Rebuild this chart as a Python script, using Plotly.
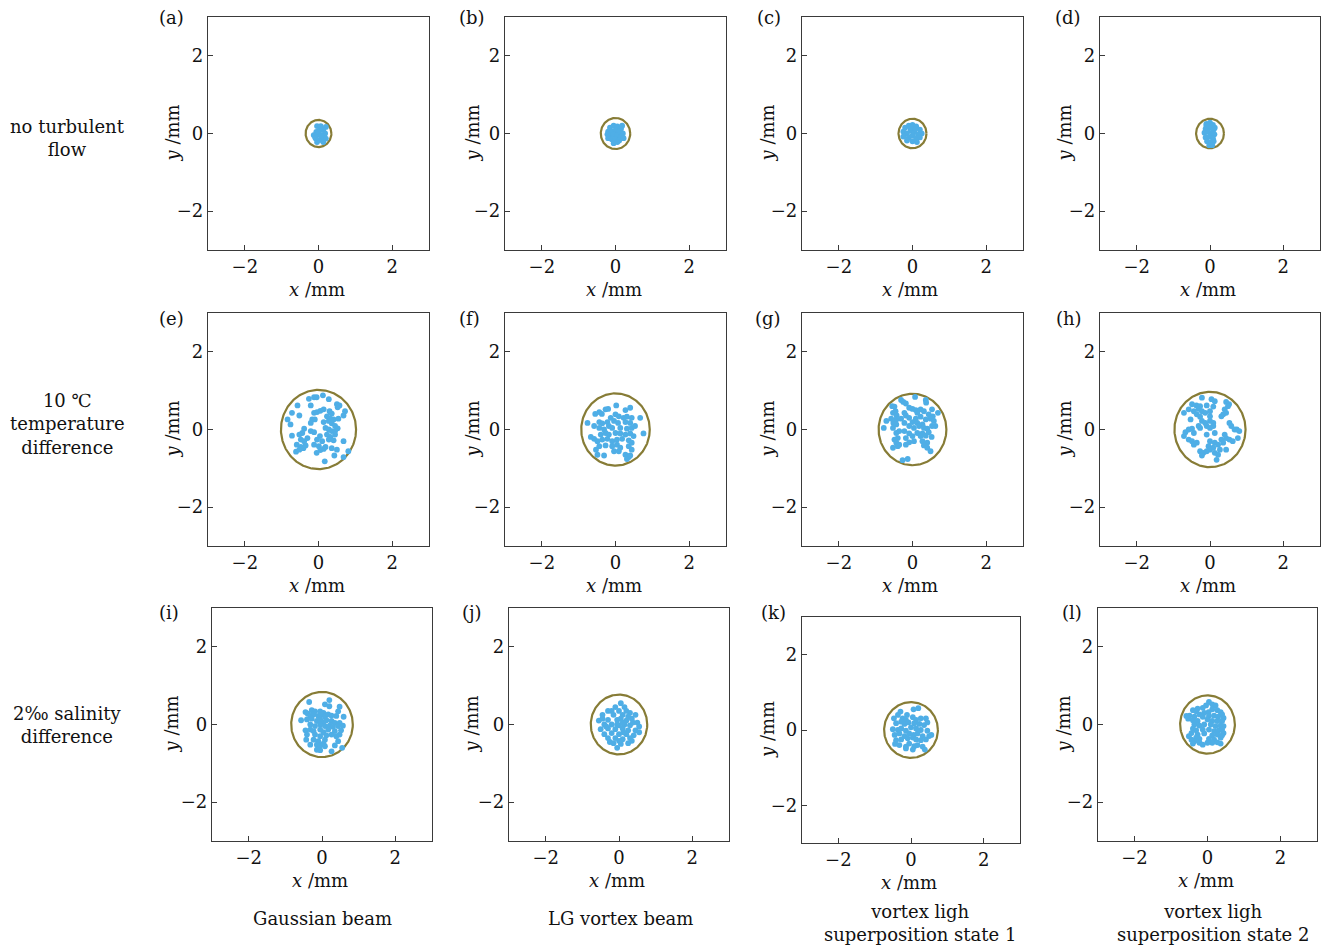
import numpy as np
import plotly.graph_objects as go

W, H = 1332, 947

panel_labels = ["(a)", "(b)", "(c)", "(d)", "(e)", "(f)", "(g)", "(h)", "(i)", "(j)", "(k)", "(l)"]
row_labels = ["no turbulent<br>flow", "10 ℃<br>temperature<br>difference", "2‰ salinity<br>difference"]
col_labels = ["Gaussian beam", "LG vortex beam", "vortex ligh<br>superposition state 1", "vortex ligh<br>superposition state 2"]
x_title = "<i>x</i> /mm"
y_title = "<i>y</i> /mm"
tick_vals = [-2, 0, 2]
axis_range = [-3, 3]

# radius of the reference circle in each panel (mm)
radii = [0.35, 0.40, 0.38, 0.38, 1.02, 0.93, 0.92, 0.97, 0.84, 0.77, 0.74, 0.75]

# (a)
a_x = [-0.04, 0.06, 0.20, 0.13, -0.04, 0.04, 0.13, -0.09, 0.00, 0.09, 0.20, -0.06, 0.18, -0.13, 0.04, -0.04, 0.13, 0.00, 0.08, -0.08]
a_y = [0.19, 0.19, 0.17, 0.09, 0.00, -0.04, -0.09, -0.09, -0.17, -0.17, -0.13, 0.04, 0.00, -0.04, 0.09, -0.22, -0.22, 0.05, -0.05, -0.12]
# (b)
b_x = [-0.15, -0.05, 0.05, 0.15, -0.20, -0.10, 0.00, 0.10, 0.20, -0.15, -0.05, 0.05, 0.15, -0.20, -0.10, 0.00, 0.10, -0.05, 0.05, 0.18, -0.22, 0.22]
b_y = [0.15, 0.20, 0.18, 0.12, 0.05, 0.05, 0.08, 0.05, 0.00, -0.05, -0.02, -0.05, -0.08, -0.12, -0.15, -0.15, -0.18, -0.25, -0.22, 0.20, -0.02, -0.12]
# (c)
c_x = [-0.25, -0.20, -0.10, 0.00, 0.10, 0.20, 0.25, -0.15, -0.05, 0.05, 0.15, -0.25, -0.10, 0.00, 0.10, 0.20, -0.15, 0.00, 0.12, -0.05, 0.08]
c_y = [0.05, 0.15, 0.20, 0.22, 0.18, 0.10, 0.00, 0.00, 0.08, 0.05, -0.02, -0.08, -0.10, -0.05, -0.12, -0.10, -0.18, -0.20, -0.22, 0.15, 0.12]
# (d)
d_x = [-0.10, 0.00, 0.08, -0.12, -0.02, 0.10, -0.15, -0.05, 0.05, 0.12, -0.12, -0.02, 0.08, -0.08, 0.03, 0.10, -0.02, 0.06, -0.10, 0.13]
d_y = [0.25, 0.28, 0.22, 0.12, 0.15, 0.10, 0.02, 0.05, 0.00, -0.02, -0.10, -0.08, -0.12, -0.20, -0.22, -0.20, -0.30, -0.30, 0.20, 0.15]
# (e)
e_x = [0.12, -0.12, -0.05, -0.26, 0.28, -0.57, -0.21, 0.50, 0.57, 0.52, -0.72, -0.52, -0.12, -0.04, 0.05, 0.14, 0.30, 0.36, 0.72, 0.68,
       -0.84, -0.17, -0.10, -0.21, 0.23, 0.32, 0.41, 0.54, -0.76, 0.14, 0.28, 0.36, 0.45, 0.52, -0.39, -0.21, -0.12, 0.19, 0.28, 0.36,
       0.45, -0.72, -0.52, -0.44, 0.04, 0.23, 0.32, 0.45, -0.48, -0.39, -0.30, -0.04, 0.10, 0.28, 0.41, 0.68, -0.59, -0.48, -0.41, -0.35,
       -0.12, 0.01, 0.19, 0.36, 0.50, -0.61, -0.52, 0.05, 0.14, -0.05, 0.43, 0.68, 0.81, 0.17]
e_y = [0.88, 0.83, 0.83, 0.79, 0.78, 0.62, 0.62, 0.65, 0.62, 0.57, 0.43, 0.36, 0.43, 0.45, 0.48, 0.52, 0.47, 0.41, 0.47, 0.36,
       0.26, 0.26, 0.26, 0.17, 0.34, 0.28, 0.26, 0.28, 0.13, 0.19, 0.22, 0.16, 0.09, 0.03, 0.02, -0.04, -0.07, 0.04, 0.00, -0.04,
       -0.04, -0.16, -0.13, -0.09, -0.17, -0.13, -0.19, -0.13, -0.26, -0.30, -0.22, -0.26, -0.30, -0.26, -0.28, -0.30, -0.39, -0.45, -0.48, -0.41,
       -0.39, -0.43, -0.45, -0.48, -0.52, -0.57, -0.52, -0.53, -0.50, -0.60, -0.67, -0.71, -0.56, -0.82]
# (f)
f_x = [0.02, 0.40, -0.27, -0.20, -0.44, -0.37, -0.55, 0.27, 0.00, 0.09, -0.13, 0.22, 0.31, 0.44, 0.67, -0.76, -0.44, -0.36, -0.22, -0.04,
       0.07, 0.27, 0.40, -0.58, -0.44, -0.31, -0.18, -0.09, 0.13, 0.31, 0.44, 0.53, 0.76, -0.67, -0.58, -0.40, -0.27, -0.18, 0.00, 0.13,
       0.27, 0.40, 0.49, -0.49, -0.36, -0.22, -0.09, 0.04, 0.18, 0.36, 0.44, -0.53, -0.44, -0.27, -0.09, 0.04, 0.13, 0.36, 0.44, -0.49,
       -0.31, -0.04, 0.09, 0.27, 0.36, 0.31, 0.40]
f_y = [0.62, 0.56, 0.52, 0.53, 0.45, 0.40, 0.40, 0.50, 0.39, 0.34, 0.30, 0.30, 0.33, 0.30, 0.30, 0.17, 0.19, 0.16, 0.19, 0.22,
       0.17, 0.19, 0.17, 0.09, 0.04, 0.00, 0.09, 0.04, 0.04, 0.02, 0.04, 0.09, -0.10, -0.19, -0.24, -0.13, -0.09, -0.13, -0.09, -0.10,
       -0.13, -0.10, -0.17, -0.30, -0.26, -0.24, -0.30, -0.26, -0.24, -0.28, -0.34, -0.52, -0.43, -0.41, -0.43, -0.39, -0.47, -0.43, -0.52, -0.65,
       -0.67, -0.56, -0.56, -0.65, -0.71, -0.76, -0.67]
# (g)
g_x = [0.07, 0.36, 0.37, -0.31, -0.25, -0.18, -0.55, -0.49, -0.09, 0.00, 0.09, 0.22, 0.31, 0.53, 0.69, -0.53, -0.46, -0.43, -0.22, -0.18,
       0.13, 0.44, 0.55, -0.58, -0.44, -0.31, -0.09, 0.09, 0.22, 0.36, 0.49, 0.58, -0.71, -0.52, -0.44, -0.22, 0.00, 0.13, 0.27, 0.53,
       0.62, -0.78, -0.53, -0.09, 0.04, 0.18, 0.31, 0.40, -0.44, -0.36, -0.22, -0.09, 0.13, 0.27, 0.44, -0.49, -0.40, -0.18, 0.00, 0.22,
       0.36, 0.52, -0.44, -0.36, -0.09, 0.04, 0.27, 0.40, -0.53, -0.40, -0.18, 0.31, 0.40, 0.49, -0.13, -0.27]
g_y = [0.84, 0.76, 0.69, 0.76, 0.71, 0.67, 0.60, 0.59, 0.56, 0.53, 0.50, 0.52, 0.47, 0.52, 0.43, 0.43, 0.47, 0.36, 0.43, 0.36,
       0.43, 0.39, 0.34, 0.28, 0.26, 0.28, 0.30, 0.28, 0.33, 0.26, 0.28, 0.22, 0.22, 0.17, 0.13, 0.17, 0.19, 0.17, 0.13, 0.09,
       0.09, 0.04, 0.04, 0.09, 0.04, 0.09, 0.04, 0.02, -0.09, -0.04, -0.04, -0.10, -0.09, -0.10, -0.07, -0.26, -0.22, -0.22, -0.17, -0.17,
       -0.16, -0.19, -0.34, -0.39, -0.33, -0.30, -0.30, -0.34, -0.47, -0.43, -0.39, -0.41, -0.47, -0.56, -0.76, -0.79]
# (h)
h_x = [-0.22, 0.04, 0.13, 0.44, 0.52, -0.49, -0.37, -0.27, -0.09, 0.09, -0.58, -0.44, -0.31, -0.22, -0.13, 0.00, 0.40, 0.49, 0.44, 0.36,
       -0.71, -0.36, -0.27, 0.00, 0.31, -0.53, -0.22, -0.13, 0.00, 0.09, 0.53, 0.58, 0.67, 0.80, 0.73, -0.31, -0.27, -0.09, 0.00, 0.09,
       -0.58, -0.49, -0.67, -0.44, -0.71, -0.09, 0.13, 0.40, 0.44, 0.53, 0.62, 0.76, 0.31, -0.58, -0.49, -0.44, -0.36, 0.00, 0.13, 0.22,
       0.36, -0.04, 0.00, 0.09, 0.27, 0.44, -0.27, -0.18, -0.09, 0.13, 0.22, -0.22, 0.18]
h_y = [0.82, 0.78, 0.73, 0.71, 0.65, 0.65, 0.62, 0.60, 0.62, 0.59, 0.52, 0.47, 0.53, 0.47, 0.43, 0.47, 0.52, 0.60, 0.43, 0.39,
       0.43, 0.39, 0.33, 0.34, 0.34, 0.26, 0.22, 0.17, 0.22, 0.17, 0.17, 0.09, 0.00, -0.04, 0.00, 0.09, 0.04, 0.09, 0.04, 0.09,
       0.00, 0.02, -0.07, -0.09, -0.17, -0.13, -0.09, -0.13, -0.22, -0.26, -0.30, -0.22, -0.26, -0.26, -0.30, -0.39, -0.34, -0.30, -0.34, -0.39,
       -0.34, -0.43, -0.52, -0.47, -0.52, -0.52, -0.56, -0.60, -0.56, -0.60, -0.65, -0.67, -0.78]
# (i)
i_x = [-0.35, 0.20, 0.08, 0.20, 0.48, 0.44, -0.45, -0.39, -0.28, -0.19, -0.05, 0.04, -0.32, -0.23, -0.10, -0.01, 0.08, 0.17, 0.26, 0.39,
       0.59, -0.57, -0.41, -0.28, -0.14, -0.05, 0.04, 0.12, 0.26, 0.35, 0.48, -0.32, -0.19, -0.05, 0.08, 0.21, 0.30, 0.44, 0.57, -0.45,
       -0.32, -0.23, -0.05, 0.04, 0.17, 0.35, 0.52, -0.41, -0.19, -0.05, 0.12, 0.26, 0.39, 0.48, -0.43, -0.23, -0.10, 0.08, 0.44, -0.32,
       -0.14, -0.05, 0.04, 0.35, 0.55, -0.14, -0.05, 0.26, 0.08]
i_y = [0.58, 0.63, 0.52, 0.47, 0.46, 0.34, 0.32, 0.28, 0.37, 0.34, 0.34, 0.30, 0.22, 0.26, 0.22, 0.26, 0.20, 0.26, 0.23, 0.22,
       0.20, 0.11, 0.13, 0.15, 0.09, 0.13, 0.06, 0.11, 0.09, 0.04, 0.04, 0.00, -0.04, 0.00, -0.04, -0.03, -0.06, -0.04, -0.03, -0.15,
       -0.13, -0.17, -0.13, -0.20, -0.13, -0.17, -0.15, -0.26, -0.26, -0.30, -0.28, -0.26, -0.30, -0.26, -0.39, -0.39, -0.43, -0.39, -0.43, -0.52,
       -0.52, -0.54, -0.49, -0.54, -0.60, -0.65, -0.66, -0.69, -0.56]
# (j)
j_x = [0.05, -0.10, 0.15, -0.30, 0.00, 0.30, -0.45, -0.15, 0.10, 0.35, -0.55, -0.30, -0.05, 0.20, 0.50, -0.40, -0.20, 0.00, 0.15, 0.30,
       0.55, -0.50, -0.30, -0.10, 0.10, 0.25, 0.45, -0.40, -0.20, 0.00, 0.20, 0.40, -0.30, -0.10, 0.10, 0.30, -0.15, 0.05, 0.25, -0.05,
       0.10, 0.05, -0.20, 0.20, 0.38, -0.35, 0.12, -0.05, 0.25, 0.45, -0.25, 0.35, 0.00, -0.45, 0.55]
j_y = [0.55, 0.45, 0.45, 0.35, 0.35, 0.30, 0.25, 0.25, 0.25, 0.15, 0.10, 0.12, 0.12, 0.10, 0.05, 0.00, 0.00, -0.02, 0.00, -0.02,
       -0.05, -0.12, -0.10, -0.12, -0.10, -0.15, -0.15, -0.25, -0.22, -0.25, -0.25, -0.28, -0.35, -0.35, -0.38, -0.35, -0.48, -0.50, -0.48, -0.60,
       0.05, 0.15, 0.35, 0.35, 0.05, -0.05, -0.20, 0.00, 0.20, 0.25, -0.45, -0.42, -0.42, 0.15, -0.20]
# (k)
k_x = [0.07, 0.20, -0.29, -0.11, -0.36, -0.47, -0.23, -0.14, 0.05, 0.14, 0.27, 0.41, -0.41, -0.27, -0.18, -0.07, 0.09, 0.23, 0.36, 0.45,
       -0.50, -0.36, -0.27, -0.14, 0.00, 0.14, 0.27, 0.45, -0.45, -0.32, -0.18, -0.05, 0.07, 0.18, 0.32, 0.50, 0.56, -0.41, -0.27, -0.09,
       0.05, 0.14, 0.27, 0.41, -0.44, -0.32, -0.14, -0.05, 0.09, 0.18, 0.32, -0.14, 0.05, 0.38]
k_y = [0.55, 0.58, 0.49, 0.40, 0.40, 0.31, 0.31, 0.27, 0.34, 0.27, 0.31, 0.31, 0.18, 0.22, 0.16, 0.20, 0.18, 0.16, 0.13, 0.20,
       0.02, 0.00, 0.04, -0.02, 0.07, 0.04, 0.00, -0.02, -0.13, -0.09, -0.16, -0.09, -0.13, -0.09, -0.16, -0.16, -0.13, -0.27, -0.25, -0.22,
       -0.20, -0.25, -0.27, -0.25, -0.37, -0.40, -0.44, -0.36, -0.43, -0.40, -0.44, -0.49, -0.52, -0.52]
# (l)
l_x = [0.04, 0.13, 0.22, -0.04, -0.13, -0.27, -0.40, -0.31, 0.13, 0.27, 0.36, 0.40, 0.03, -0.09, -0.58, -0.49, -0.36, -0.22, -0.13, 0.04,
       0.18, 0.29, 0.44, -0.53, -0.40, -0.27, 0.00, 0.13, 0.27, 0.40, -0.36, -0.22, -0.09, 0.09, 0.22, 0.36, 0.44, -0.40, -0.31, -0.13,
       0.04, 0.18, 0.31, 0.40, -0.44, -0.27, -0.09, 0.13, 0.27, 0.44, -0.51, -0.31, -0.22, 0.04, 0.18, 0.36, 0.40, -0.36, -0.22, 0.13,
       0.27, 0.36, -0.44, -0.40, -0.13, 0.00]
l_y = [0.58, 0.52, 0.49, 0.49, 0.43, 0.41, 0.37, 0.34, 0.39, 0.37, 0.32, 0.26, 0.32, 0.30, 0.22, 0.23, 0.20, 0.26, 0.20, 0.22,
       0.23, 0.20, 0.17, 0.15, 0.11, 0.09, 0.13, 0.09, 0.09, 0.09, 0.00, -0.03, 0.00, 0.00, -0.04, -0.03, -0.04, -0.11, -0.15, -0.13,
       -0.13, -0.17, -0.15, -0.13, -0.22, -0.26, -0.23, -0.28, -0.26, -0.22, -0.30, -0.34, -0.37, -0.37, -0.39, -0.34, -0.28, -0.43, -0.47, -0.47,
       -0.46, -0.49, -0.39, -0.49, -0.52, -0.47]

xs = [a_x, b_x, c_x, d_x, e_x, f_x, g_x, h_x, i_x, j_x, k_x, l_x]
ys = [a_y, b_y, c_y, d_y, e_y, f_y, g_y, h_y, i_y, j_y, k_y, l_y]

# panel boxes in pixels: left, right, top, bottom
boxes = [
    (208, 429, 17, 250), (505, 726, 17, 250), (802, 1023, 17, 250), (1100, 1320, 17, 250),
    (208, 429, 313, 546), (505, 726, 313, 546), (802, 1023, 313, 546), (1100, 1320, 313, 546),
    (212, 432, 608, 841), (509, 729, 608, 841), (802, 1020, 617, 843), (1098, 1317, 608, 841),
]
label_pos = [(157, 18), (457, 18), (755, 18), (1053, 18),
             (157, 318), (457, 318), (753, 318), (1054, 318),
             (157, 612), (460, 612), (759, 612), (1060, 612)]
ytitle_x = [172, 472, 767, 1064, 172, 472, 767, 1064, 171, 471, 767, 1063]

FONT = "DejaVu Serif"
TXT = "#111111"
AX = "#3a3a3a"
DOT = "#4FAEE6"
RING = "#877C36"
FS = 18

fig = go.Figure()
theta = np.linspace(0, 2 * np.pi, 241)
layout = {}
annotations = []
for k in range(12):
    n = "" if k == 0 else str(k + 1)
    xa, ya = "x" + n, "y" + n
    L, R, T, B = boxes[k]
    fig.add_trace(go.Scatter(x=radii[k] * np.cos(theta), y=radii[k] * np.sin(theta), mode="lines",
                             line=dict(color=RING, width=2.2), xaxis=xa, yaxis=ya, showlegend=False,
                             hoverinfo="skip"))
    fig.add_trace(go.Scatter(x=xs[k], y=ys[k], mode="markers",
                             marker=dict(color=DOT, size=5.8, line=dict(width=0)),
                             xaxis=xa, yaxis=ya, showlegend=False))
    common = dict(range=axis_range, tickvals=tick_vals, ticks="inside", ticklen=5, tickwidth=1.2,
                  tickcolor=AX, showline=True, linecolor=AX, linewidth=1.4, mirror=True,
                  showgrid=False, zeroline=False, tickfont=dict(family=FONT, size=FS, color=TXT),
                  fixedrange=True)
    layout["xaxis" + n] = dict(common, domain=[L / W, R / W], anchor=ya)
    layout["yaxis" + n] = dict(common, domain=[1 - B / H, 1 - T / H], anchor=xa)
    # x-axis title
    annotations.append(dict(text=x_title, x=((L + R) / 2 - 2) / W, y=1 - (B + 39) / H, xref="paper", yref="paper",
                            xanchor="center", yanchor="middle", showarrow=False,
                            font=dict(family=FONT, size=FS, color=TXT)))
    # y-axis title
    annotations.append(dict(text=y_title, x=ytitle_x[k] / W, y=1 - ((T + B) / 2) / H, xref="paper", yref="paper",
                            xanchor="center", yanchor="middle", showarrow=False, textangle=-90,
                            font=dict(family=FONT, size=FS, color=TXT)))
    px, py = label_pos[k]
    annotations.append(dict(text=panel_labels[k], x=px / W, y=1 - py / H, xref="paper", yref="paper",
                            xanchor="left", yanchor="middle", showarrow=False,
                            font=dict(family=FONT, size=FS, color=TXT)))

row_centers = [(67, 138), (67, 424), (67, 725)]
for txt, (px, py) in zip(row_labels, row_centers):
    annotations.append(dict(text=txt, x=px / W, y=1 - py / H, xref="paper", yref="paper",
                            xanchor="center", yanchor="middle", showarrow=False, align="center",
                            font=dict(family=FONT, size=FS, color=TXT)))
col_centers = [(322, 918), (620, 918), (920, 923), (1213, 923)]
for txt, (px, py) in zip(col_labels, col_centers):
    annotations.append(dict(text=txt, x=px / W, y=1 - py / H, xref="paper", yref="paper",
                            xanchor="center", yanchor="middle", showarrow=False, align="center",
                            font=dict(family=FONT, size=FS, color=TXT)))

fig.update_layout(width=W, height=H, margin=dict(l=0, r=0, t=0, b=0), paper_bgcolor="white",
                  plot_bgcolor="white", annotations=annotations, **layout)
fig.write_html("out.html")
